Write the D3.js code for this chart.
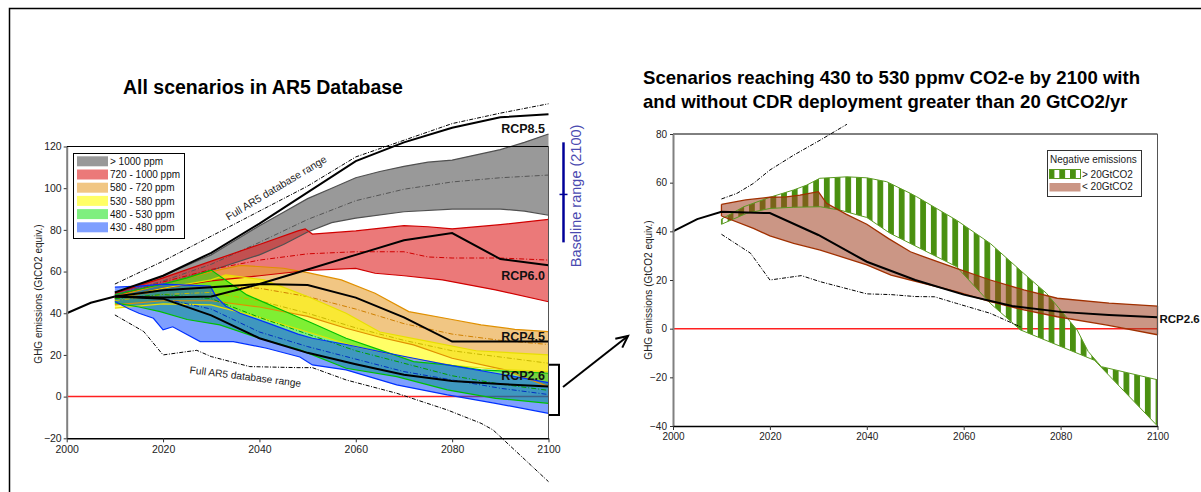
<!DOCTYPE html>
<html><head><meta charset="utf-8">
<script src="https://cdn.jsdelivr.net/npm/d3@7"></script>
<style>
body{margin:0;background:#fff;}
svg{display:block;font-family:Arial,"Liberation Sans",sans-serif;}
</style></head><body>
<svg id="c" width="1201" height="492"></svg>
<script>
// ---------------- DATA (left chart: all scenarios in AR5 database) ----------------
const xTicks = [2000, 2020, 2040, 2060, 2080, 2100];
const yTicksLeft = [-20, 0, 20, 40, 60, 80, 100, 120];
const yTicksRight = [-40, -20, 0, 20, 40, 60, 80];
const legendLabels = ["> 1000 ppm", "720 - 1000 ppm", "580 - 720 ppm", "530 - 580 ppm", "480 - 530 ppm", "430 - 480 ppm"];

const histYears = [2000, 2005, 2010];
const histValues = [40, 45, 48];

const rcpYears = [2010, 2020, 2030, 2040, 2050, 2060, 2070, 2080, 2090, 2100];
const rcp85 = [50, 58, 69, 83, 98, 113, 122, 129, 134, 135.5];
const rcp60 = [48, 47.5, 48, 54, 61, 68, 75, 78.5, 66, 63];
const rcp45 = [48, 51, 52.5, 54, 53.5, 47.5, 38, 26.4, 26.4, 26.4];
const rcp26 = [48, 47, 39, 28, 21, 15.5, 10.5, 7.5, 6, 4.8];

const ar5UpperL = [[2010,54],[2020,65],[2030,77],[2040,89],[2050,101],[2060,115],[2070,123],[2080,131],[2090,136],[2100,140.5]];
const ar5LowerL = [[2010,39.2],[2016,31.2],[2020,20],[2025,21.6],[2027,22.2],[2030,19.2],[2038,14.4],[2048,13.9],[2051,13.9],[2058,8],[2068.5,1.6],[2079,-6.4],[2086,-12.8],[2088.5,-16],[2100,-40.8]];

// > 1000 ppm
const grayUpper = [[2010,50],[2015,53.5],[2020,58],[2025,63],[2030,68],[2035,75],[2040,82],[2045,88.5],[2050,95],[2055,100],[2060,105],[2065,108],[2070,110.5],[2075,112.5],[2080,113.5],[2085,116],[2090,118.5],[2095,122],[2100,126]];
const grayLower = [[2010,48.5],[2020,54],[2030,60.5],[2040,68],[2045,73],[2050,79],[2055,83.5],[2060,85.6],[2070,88.7],[2080,90],[2090,90],[2095,89],[2100,87]];
const grayMedian = [[2010,49],[2020,55.5],[2030,63.5],[2040,74],[2050,85],[2060,94],[2070,99.5],[2080,103],[2090,105],[2100,106.3]];
// 720 - 1000 ppm
const redUpper = [[2010,49.5],[2020,57],[2030,65],[2040,73],[2048,79.5],[2049.5,80.5],[2051,78],[2060,79.5],[2070,82],[2075,81.5],[2080,80.5],[2090,82.5],[2100,85]];
const redLower = [[2010,47],[2020,52],[2030,55.5],[2040,58],[2050,60.5],[2060,61.5],[2064,59.2],[2070,58],[2078,56],[2089,51.2],[2100,45.5]];
const redMedian = [[2010,48],[2020,55],[2030,61],[2040,65.5],[2050,68.5],[2060,69.5],[2070,69.5],[2075,67],[2080,66.5],[2090,66.5],[2100,65.5]];
// 580 - 720 ppm
const orangeUpper = [[2010,48],[2020,54],[2030,60],[2036,63],[2045,61.6],[2050,59.5],[2057,56],[2064,49.6],[2071,40.8],[2080,37],[2086,34.4],[2093,32.3],[2100,31.2]];
const orangeLower = [[2010,44],[2020,46],[2030,46],[2040,43],[2050,38.5],[2058,32.8],[2065,28.5],[2072,24.8],[2080,18.4],[2091,12.8],[2100,4.8]];
const orangeMedian = [[2010,47],[2020,51],[2030,53],[2040,52],[2050,48],[2060,42],[2070,35],[2080,30],[2090,27],[2100,25]];
// 530 - 580 ppm
const yellowUpper = [[2010,47],[2020,52],[2030,56],[2033,58.4],[2041,56],[2050,48],[2058,40],[2065,31],[2075,26.5],[2085,22],[2100,20]];
const yellowLower = [[2010,42.5],[2020,44.5],[2030,44],[2040,38],[2050,31],[2060,24],[2070,19],[2080,15],[2090,13],[2100,12]];
const yellowMedian = [[2010,46],[2020,49],[2030,50],[2040,46],[2050,40],[2060,33],[2070,27],[2080,22],[2090,19],[2100,16]];
// 480 - 530 ppm
const greenUpper = [[2010,49],[2015,51.5],[2020,54],[2025,57],[2030,60.7],[2037.4,48.8],[2045.7,40.5],[2051,35.2],[2058,28],[2065,22.4],[2072,16.8],[2079,15.2],[2086,12.8],[2100,11.2]];
const greenLower = [[2010,45],[2015,43],[2019.4,40.8],[2025,37],[2031.8,34.4],[2040,28],[2048.4,22.4],[2058,13.6],[2068.5,9.6],[2079,3.2],[2089,-0.8],[2100,-3.2]];
const greenMedian = [[2010,47],[2020,49],[2030,47],[2040,38],[2050,30],[2060,22],[2070,16],[2080,10],[2090,6],[2100,3]];
// 430 - 480 ppm
const blueUpper = [[2010,52.5],[2015,53],[2020,54],[2025,53.5],[2029.8,53],[2031,48],[2033,43.5],[2036,40],[2041.5,35.5],[2048,30],[2051,28],[2058,25],[2065,21.6],[2072,18.4],[2079,15.2],[2089,11.2],[2100,6.7]];
const blueLower = [[2010,45.6],[2013,42],[2015,40],[2018,37.6],[2020,32],[2022,33.5],[2024,31],[2027.7,26.4],[2034.6,26.4],[2041.5,23.2],[2048.4,19],[2051,15.2],[2058,12.8],[2068.5,5.6],[2079,0.8],[2089,-3.2],[2100,-8]];
const blueMedian = [[2010,48],[2020,47],[2030,42],[2040,31],[2050,24],[2060,18],[2070,12],[2080,8],[2090,4],[2100,1]];

const baselineRange2100 = [74, 97, 122];   // low, mid, high
const rcp26Bracket = [15.3, -8.8];

// ---------------- DATA (right chart: 430-530 ppm, with / without CDR) ----------------
const rcp26RYears = [2000, 2005, 2010, 2020, 2030, 2040, 2050, 2060, 2070, 2080, 2090, 2100];
const rcp26RValues = [40, 45, 48, 47.5, 38.5, 27.5, 20, 14, 9.3, 6.9, 5.6, 4.7];
const ar5UpperR = [[2010,53.3],[2013.2,55.6],[2016.6,59.7],[2020,65.2],[2024.9,71.3],[2030.4,77.5],[2035.9,84]];
const ar5LowerR = [[2010,38.8],[2016,31],[2020,20],[2026.5,21.8],[2030.4,19.3],[2040,14.3],[2045,14],[2050,13.2],[2054,13.1],[2058.5,10.4],[2065.5,6.3],[2072,0.5]];
const cdrHighUpper = [[2010,45],[2014.6,50.1],[2020,54],[2024.9,57],[2027.6,59],[2030.3,61.8],[2035.9,62.4],[2040,62],[2044.1,60.4],[2049,55.6],[2050.3,54.2],[2058.5,44.6],[2065.5,35],[2072.4,22.7],[2077.1,14.5],[2083.4,-0.5],[2085.7,-9.4],[2088.4,-15.6],[2100,-21]];
const cdrHighLower = [[2010,42.9],[2015.2,47.4],[2020,49.4],[2024.9,49.9],[2030.4,50.1],[2034.5,48.7],[2040,45.7],[2044.8,39.2],[2051.7,32.3],[2058.5,25.5],[2065.5,10.4],[2071.7,-0.5],[2087,-13],[2100,-40]];
const cdrLowUpper = [[2010,51.1],[2015,52.9],[2020,54],[2023.4,54.2],[2026.2,54.9],[2030,56.3],[2031.7,51.5],[2035.8,47],[2040,42.9],[2044.5,37],[2049,31.6],[2051.7,29.6],[2058.5,24.8],[2065.5,20],[2072.4,15.9],[2079.3,12.5],[2090,10.5],[2100,9.3]];
const cdrLowLower = [[2010,46.3],[2016.6,41.2],[2020,38.1],[2024.9,35.1],[2030.4,32.3],[2040,26.2],[2045,22],[2049,20],[2058.5,15.2],[2065.5,11.1],[2072.4,7.7],[2079.3,4.9],[2089.6,1.5],[2100,-2.5]];
const cdrLegendLabels = ["> 20GtCO2", "< 20GtCO2"];

// ---------------- DRAWING ----------------
const svg = d3.select("#c");
const FONT = 'Arial, "Liberation Sans", sans-serif';

// outer frame
svg.append("path").attr("d", "M9.5,492 V8.5 H1201").attr("fill", "none").attr("stroke", "#000").attr("stroke-width", 1.5);

const defs = svg.append("defs");
const hatch = defs.append("pattern").attr("id", "hatch").attr("patternUnits", "userSpaceOnUse")
  .attr("width", 10.7).attr("height", 10);
hatch.append("rect").attr("x", 0).attr("y", 0).attr("width", 5.8).attr("height", 10).attr("fill", "#4a9010");

function bandD(line, up, lo) { return line(up.concat(lo.slice().reverse())) + "Z"; }

// ===== LEFT CHART =====
const xL = d3.scaleLinear().domain([2000, 2100]).range([66.7, 548.5]);
const yL = d3.scaleLinear().domain([-20, 120]).range([438.3, 146.5]);
const lineL = d3.line().x(d => xL(d[0])).y(d => yL(d[1]));
const L = svg.append("g");

// zero line
L.append("line").attr("x1", xL(2000)).attr("x2", xL(2100)).attr("y1", yL(0)).attr("y2", yL(0))
  .attr("stroke", "#ff2020").attr("stroke-width", 1.5);

const bands = [
  {up: grayUpper, lo: grayLower, med: grayMedian, fill: "#808080", op: 0.8, stroke: "#505050", medStroke: "#555"},
  {up: redUpper, lo: redLower, med: redMedian, fill: "#dd2020", op: 0.6, stroke: "#d00000", medStroke: "#d00000"},
  {up: orangeUpper, lo: orangeLower, med: orangeMedian, fill: "#e8a030", op: 0.6, stroke: "#e09000", medStroke: "#d08000"},
  {up: yellowUpper, lo: yellowLower, med: yellowMedian, fill: "#ffff00", op: 0.6, stroke: "#e8e000", medStroke: "#c8b800"},
  {up: greenUpper, lo: greenLower, med: greenMedian, fill: "#00e000", op: 0.5, stroke: "#00c000", medStroke: "#00a000"},
  {up: blueUpper, lo: blueLower, med: blueMedian, fill: "#0040ff", op: 0.5, stroke: "#0030ff", medStroke: "#0030c0"}
];
bands.forEach(b => {
  L.append("path").attr("d", bandD(lineL, b.up, b.lo)).attr("fill", b.fill).attr("fill-opacity", b.op).attr("stroke", "none");
});
bands.forEach(b => {
  [b.up, b.lo].forEach(e => L.append("path").attr("d", lineL(e)).attr("fill", "none").attr("stroke", b.stroke).attr("stroke-width", 1.2));
  L.append("path").attr("d", lineL(b.med)).attr("fill", "none").attr("stroke", b.medStroke).attr("stroke-width", 1)
    .attr("stroke-dasharray", "5,2,1,2");
});

// AR5 full range
[ar5UpperL, ar5LowerL].forEach(a => L.append("path").attr("d", lineL(a)).attr("fill", "none")
  .attr("stroke", "#000").attr("stroke-width", 1).attr("stroke-dasharray", "4,1.5,1,1.5"));

// historical + RCP lines
L.append("path").attr("d", lineL(histYears.map((y, i) => [y, histValues[i]]))).attr("fill", "none").attr("stroke", "#000").attr("stroke-width", 2);
[rcp85, rcp60, rcp45, rcp26].forEach(r => L.append("path").attr("d", lineL(rcpYears.map((y, i) => [y, r[i]])))
  .attr("fill", "none").attr("stroke", "#000").attr("stroke-width", 2));

// plot frame top/right
L.append("line").attr("x1", xL(2000)).attr("x2", xL(2100)).attr("y1", yL(120)).attr("y2", yL(120)).attr("stroke", "#000").attr("stroke-width", 1);
L.append("line").attr("x1", xL(2100)).attr("x2", xL(2100)).attr("y1", yL(120)).attr("y2", yL(-20)).attr("stroke", "#555").attr("stroke-width", 1);

function styleAxis(g, fs, domainColor, domainWidth) {
  g.attr("font-family", FONT).attr("font-size", fs);
  g.select(".domain").attr("stroke", domainColor).attr("stroke-width", domainWidth);
  g.selectAll(".tick line").attr("stroke", "#333");
  g.selectAll(".tick text").attr("fill", "#222");
}
const axYL = L.append("g").attr("transform", `translate(${xL(2000)},0)`)
  .call(d3.axisLeft(yL).tickValues(yTicksLeft).tickSize(3).tickSizeOuter(0).tickPadding(2));
styleAxis(axYL, 10.5, "#808080", 2);
const axXL = L.append("g").attr("transform", `translate(0,${yL(-20)})`)
  .call(d3.axisBottom(xL).tickValues(xTicks).tickFormat(d3.format("d")).tickSize(4).tickSizeOuter(0).tickPadding(3));
styleAxis(axXL, 10.5, "#000", 1.5);

// legend
L.append("rect").attr("x", 73.5).attr("y", 153.5).attr("width", 111).attr("height", 85).attr("fill", "#fff").attr("stroke", "#000");
legendLabels.forEach((t, i) => {
  const cy = 161.3 + i * 13.2;
  L.append("rect").attr("x", 77).attr("y", cy - 5).attr("width", 31).attr("height", 10)
    .attr("fill", bands[i].fill).attr("fill-opacity", bands[i].op);
  L.append("text").attr("x", 110).attr("y", cy + 3.6).attr("font-size", 10).attr("font-family", FONT).attr("fill", "#111").text(t);
});

// titles & labels
svg.append("text").attr("x", 263).attr("y", 94).attr("text-anchor", "middle").attr("font-size", 19.5).attr("font-weight", "bold")
  .attr("font-family", FONT).text("All scenarios in AR5 Database");
svg.append("text").attr("transform", "translate(41.5,294) rotate(-90)").attr("text-anchor", "middle").attr("font-size", 10)
  .attr("font-family", FONT).attr("fill", "#222").text("GHG emissions (GtCO2 equiv.)");
svg.append("text").attr("transform", "translate(278,191) rotate(-31)").attr("text-anchor", "middle").attr("font-size", 10.5)
  .attr("font-family", FONT).attr("fill", "#222").text("Full AR5 database range");
svg.append("text").attr("transform", "translate(245,380) rotate(7)").attr("text-anchor", "middle").attr("font-size", 10.2)
  .attr("font-family", FONT).attr("fill", "#222").text("Full AR5 database range");
[["RCP8.5", 133], ["RCP6.0", 280], ["RCP4.5", 340.5], ["RCP2.6", 379.5]].forEach(([t, y]) =>
  svg.append("text").attr("x", 545).attr("y", y).attr("text-anchor", "end").attr("font-size", 12.5).attr("font-weight", "bold")
    .attr("font-family", FONT).attr("fill", "#111").text(t));

// baseline range
const bx = 563.5;
svg.append("line").attr("x1", bx).attr("x2", bx).attr("y1", yL(baselineRange2100[2])).attr("y2", yL(baselineRange2100[0]))
  .attr("stroke", "#000099").attr("stroke-width", 2.5);
svg.append("line").attr("x1", bx - 4).attr("x2", bx + 4).attr("y1", yL(baselineRange2100[1])).attr("y2", yL(baselineRange2100[1]))
  .attr("stroke", "#000099").attr("stroke-width", 1.5);
svg.append("text").attr("transform", `translate(580.5,${yL(baselineRange2100[1]) + 1.5}) rotate(-90)`).attr("text-anchor", "middle")
  .attr("font-size", 14.5).attr("font-family", FONT).attr("fill", "#4a4ab0").text("Baseline range (2100)");

// bracket + arrow
svg.append("path").attr("d", `M549,${yL(rcp26Bracket[0])} H559 V${yL(rcp26Bracket[1])} H549`).attr("fill", "none")
  .attr("stroke", "#000").attr("stroke-width", 2);
(function () {
  const x1 = 563, y1 = 387, x2 = 628, y2 = 336;
  const a = Math.atan2(y2 - y1, x2 - x1), h = 13, s = 0.45;
  svg.append("line").attr("x1", x1).attr("y1", y1).attr("x2", x2).attr("y2", y2).attr("stroke", "#000").attr("stroke-width", 2);
  svg.append("path").attr("d", `M${x2 - h * Math.cos(a - s)},${y2 - h * Math.sin(a - s)} L${x2},${y2} L${x2 - h * Math.cos(a + s)},${y2 - h * Math.sin(a + s)}`)
    .attr("fill", "none").attr("stroke", "#000").attr("stroke-width", 2);
})();

// ===== RIGHT CHART =====
const xR = d3.scaleLinear().domain([2000, 2100]).range([673, 1157.5]);
const yR = d3.scaleLinear().domain([-40, 80]).range([426, 134]);
const lineR = d3.line().x(d => xR(d[0])).y(d => yR(d[1]));
const R = svg.append("g");

R.append("line").attr("x1", xR(2000)).attr("x2", xR(2100)).attr("y1", yR(0)).attr("y2", yR(0))
  .attr("stroke", "#ff2020").attr("stroke-width", 1.5);
R.append("path").attr("d", bandD(lineR, cdrHighUpper, cdrHighLower)).attr("fill", "url(#hatch)");
R.append("path").attr("d", bandD(lineR, cdrLowUpper, cdrLowLower)).attr("fill", "#a04020").attr("fill-opacity", 0.55);
R.append("path").attr("d", bandD(lineR, cdrHighUpper, cdrHighLower)).attr("fill", "none").attr("stroke", "#5a9a20").attr("stroke-width", 1);
[cdrLowUpper, cdrLowLower].forEach(e => R.append("path").attr("d", lineR(e)).attr("fill", "none").attr("stroke", "#a03000").attr("stroke-width", 1.3));
R.append("line").attr("x1", xR(2010)).attr("x2", xR(2010)).attr("y1", yR(cdrLowUpper[0][1])).attr("y2", yR(cdrLowLower[0][1])).attr("stroke", "#a03000").attr("stroke-width", 1.3);
R.append("line").attr("x1", xR(2100)).attr("x2", xR(2100)).attr("y1", yR(cdrLowUpper[cdrLowUpper.length-1][1])).attr("y2", yR(cdrLowLower[cdrLowLower.length-1][1])).attr("stroke", "#a03000").attr("stroke-width", 1.3);
[ar5UpperR, ar5LowerR].forEach(a => R.append("path").attr("d", lineR(a)).attr("fill", "none")
  .attr("stroke", "#000").attr("stroke-width", 1).attr("stroke-dasharray", "4,1.5,1,1.5"));
R.append("path").attr("d", lineR(rcp26RYears.map((y, i) => [y, rcp26RValues[i]]))).attr("fill", "none").attr("stroke", "#000").attr("stroke-width", 2);

R.append("line").attr("x1", xR(2000)).attr("x2", xR(2100)).attr("y1", yR(80)).attr("y2", yR(80)).attr("stroke", "#000").attr("stroke-width", 1);
R.append("line").attr("x1", xR(2100)).attr("x2", xR(2100)).attr("y1", yR(80)).attr("y2", yR(-40)).attr("stroke", "#555").attr("stroke-width", 1);
const axYR = R.append("g").attr("transform", `translate(${xR(2000)},0)`)
  .call(d3.axisLeft(yR).tickValues(yTicksRight).tickSize(3).tickSizeOuter(0).tickPadding(3));
styleAxis(axYR, 10, "#808080", 2);
const axXR = R.append("g").attr("transform", `translate(0,${yR(-40)})`)
  .call(d3.axisBottom(xR).tickValues(xTicks).tickFormat(d3.format("d")).tickSize(4).tickSizeOuter(0).tickPadding(3));
styleAxis(axXR, 10, "#000", 1.5);

// right legend
R.append("rect").attr("x", 1047.5).attr("y", 150.5).attr("width", 94).attr("height", 46).attr("fill", "#fff").attr("stroke", "#333");
R.append("text").attr("x", 1050).attr("y", 162.5).attr("font-size", 10).attr("font-family", FONT).attr("fill", "#222").text("Negative emissions");
R.append("rect").attr("x", 1049.5).attr("y", 169.5).attr("width", 31).attr("height", 9).attr("fill", "url(#hatch)").attr("stroke", "#5a9a20");
R.append("rect").attr("x", 1049.5).attr("y", 183).attr("width", 31).attr("height", 8.5).attr("fill", "#a04020").attr("fill-opacity", 0.55);
cdrLegendLabels.forEach((t, i) => R.append("text").attr("x", 1082).attr("y", 177.8 + i * 12.5).attr("font-size", 10)
  .attr("font-family", FONT).attr("fill", "#222").text(t));

// right titles
const rt = svg.append("text").attr("font-size", 18.6).attr("font-weight", "bold").attr("font-family", FONT);
rt.append("tspan").attr("x", 643).attr("y", 83.5).text("Scenarios reaching 430 to 530 ppmv CO2-e by 2100 with");
rt.append("tspan").attr("x", 643).attr("y", 107.5).text("and without CDR deployment greater than 20 GtCO2/yr");
svg.append("text").attr("transform", "translate(652,290) rotate(-90)").attr("text-anchor", "middle").attr("font-size", 10)
  .attr("font-family", FONT).attr("fill", "#222").text("GHG emissions (GtCO2 equiv.)");
svg.append("text").attr("x", 1159.5).attr("y", 323).attr("font-size", 11.5).attr("font-weight", "bold")
  .attr("font-family", FONT).attr("fill", "#111").text("RCP2.6");
</script></body></html>
